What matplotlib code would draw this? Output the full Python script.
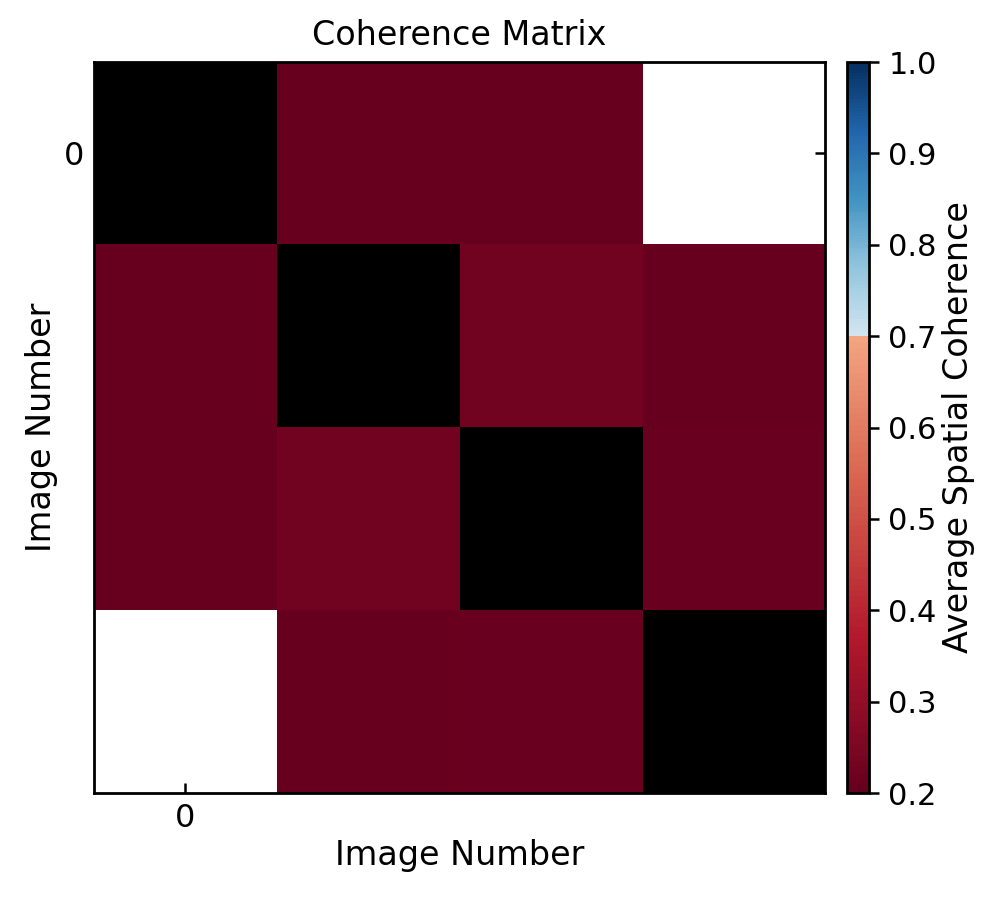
import numpy as np
import matplotlib
matplotlib.use("Agg")
import matplotlib.pyplot as plt
from matplotlib.colors import ListedColormap

# coherence between image pairs (nan = same image, 0 = no overlap)
row_0 = [np.nan, 0.207, 0.202, 0.0]
row_1 = [0.208, np.nan, 0.229, 0.205]
row_2 = [0.200, 0.229, np.nan, 0.211]
row_3 = [0.0, 0.203, 0.214, np.nan]

tick_positions = [0]
tick_labels = ["0"]
cbar_ticks = [0.2, 0.3, 0.4, 0.5, 0.6, 0.7, 0.8, 0.9, 1.0]

coherence = np.array([row_0, row_1, row_2, row_3])

# RdBu with the pale middle cut out, break at 0.7
base = plt.get_cmap("RdBu")
lower = base(np.linspace(0.0, 0.3, 160))
upper = base(np.linspace(0.6, 1.0, 96))
cmap = ListedColormap(np.vstack([lower, upper]))
cmap.set_bad("black")
cmap.set_under("white")

fig = plt.figure(figsize=(9.97, 8.99), dpi=100)

ax = fig.add_axes([0.0943, 0.1179, 0.7335, 0.8131])
cax = fig.add_axes([0.8495, 0.1179, 0.0221, 0.8131])

im = ax.imshow(coherence, cmap=cmap, vmin=0.2, vmax=1.0, aspect="auto",
               interpolation="nearest")

ax.set_xticks(tick_positions)
ax.set_xticklabels(tick_labels)
ax.set_yticks(tick_positions)
ax.set_yticklabels(tick_labels)
ax.tick_params(direction="in", top=True, right=True, length=7, width=1.8,
               labelsize=23, pad=7)
for spine in ax.spines.values():
    spine.set_linewidth(2)

ax.set_title("Coherence Matrix", fontsize=24, pad=12)
ax.set_xlabel("Image Number", fontsize=24)
ax.set_ylabel("Image Number", fontsize=24)

cbar = fig.colorbar(im, cax=cax)
cbar.set_ticks(cbar_ticks)
cbar.ax.set_yticklabels([f"{t:.1f}" for t in cbar_ticks])
cbar.ax.tick_params(length=7, width=1.8, labelsize=22, pad=7)
cbar.outline.set_linewidth(2)
cbar.set_label("Average Spatial Coherence", fontsize=24)

plt.savefig("out.png", dpi=100)
plt.close()
